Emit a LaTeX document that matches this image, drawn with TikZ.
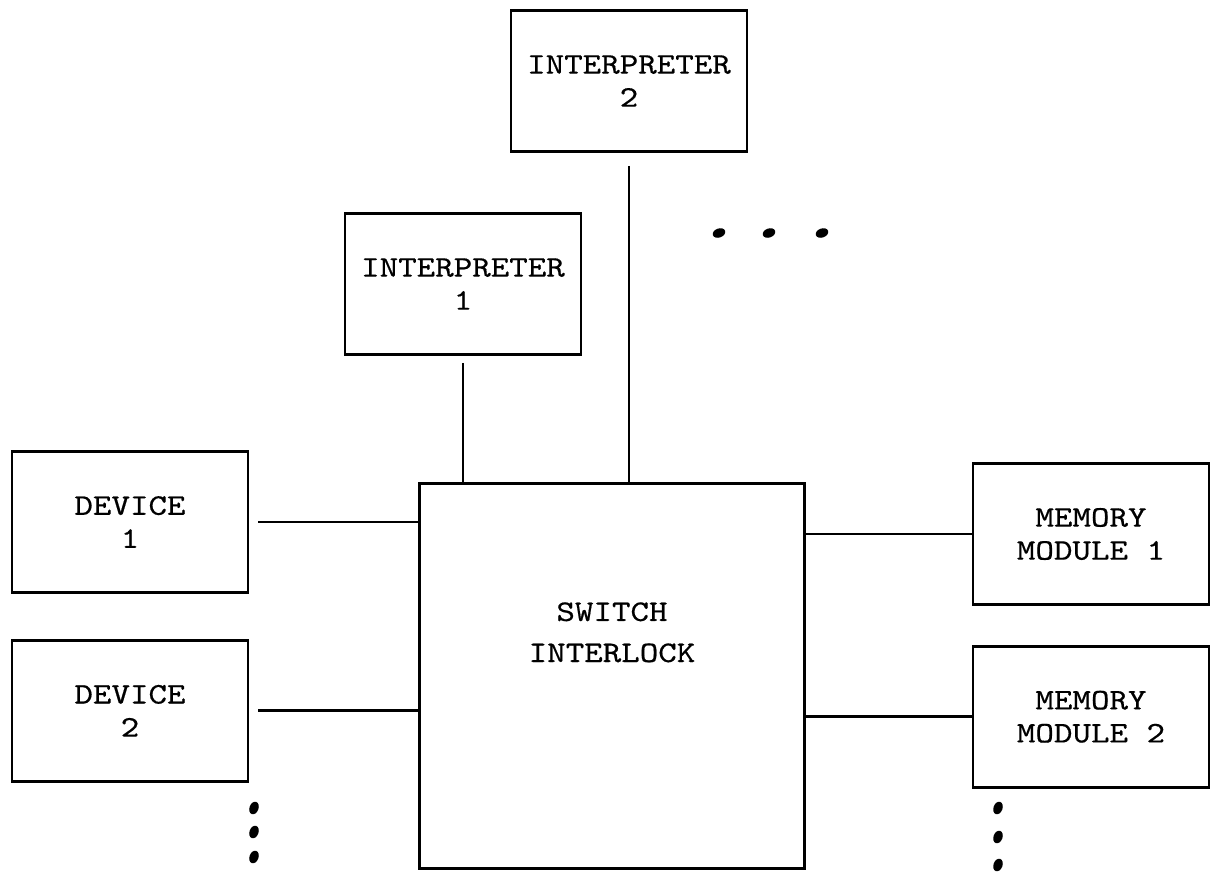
\documentclass[tikz,border=0pt]{standalone}
\usepackage{fontspec}
\setmonofont{lmmono10-regular.otf}[FakeStretch=1.18, FakeBold=0.5]
\usetikzlibrary{
  positioning,
  calc
}
\tikzset{
  unitbox/.style={
    draw=black, line width=0.75pt, inner sep=0pt,
    minimum width=2.36cm, minimum height=1.41cm,
    font=\ttfamily\fontsize{8.5}{9.4}\selectfont, align=center
  },
  busline/.style={
    line width=0.75pt, draw=black
  },
  blob/.style={
    fill=black
  }
}

\begin{document}
\begin{tikzpicture}[x=0.01cm, y=-0.01cm]
    \useasboundingbox (0,0) rectangle (1212,875);

    \node[unitbox, minimum width=3.85cm, minimum height=3.85cm, text height=0.17cm, text depth=0.45cm] (sw) at (612,676) {SWITCH\\[0.08cm]INTERLOCK};

    \node[unitbox] (int1) at (463,284) {INTERPRETER\\1};
    \node[unitbox] (int2) at (629,81) {INTERPRETER\\2};

    \node[unitbox] (dev1) at (130,522) {DEVICE\\1};
    \node[unitbox, below=0.45cm of dev1] (dev2) {DEVICE\\2};

    \node[unitbox] (mem1) at (1091,534) {MEMORY\\MODULE 1};
    \node[unitbox, below=0.39cm of mem1] (mem2) {MEMORY\\MODULE 2};

    \draw[busline, shorten <=0.09cm] (dev1.east) -- (dev1.east -| sw.west);
    \draw[busline, shorten <=0.09cm] (dev2.east) -- (dev2.east -| sw.west);
    \draw[busline] (sw.east |- mem1.west) -- (mem1.west);
    \draw[busline] (sw.east |- mem2.west) -- (mem2.west);

    \draw[busline, shorten <=0.07cm] (int1.south) -- (int1.south |- sw.north);
    \draw[busline, shorten <=0.13cm] (int2.south) -- (int2.south |- sw.north);

    % more interpreters, devices and modules
    \foreach \x in {719,769,822}
      \fill[blob, rotate around={20:(\x,233)}] (\x,233) ellipse (6.5 and 4.5);
    \foreach \y in {808,832,857}
      \fill[blob, rotate around={70:(254,\y)}] (254,\y) ellipse (6.5 and 4.5);
    \foreach \y in {808,837,865}
      \fill[blob, rotate around={70:(998,\y)}] (998,\y) ellipse (6.5 and 4.5);

\end{tikzpicture}
\end{document}
